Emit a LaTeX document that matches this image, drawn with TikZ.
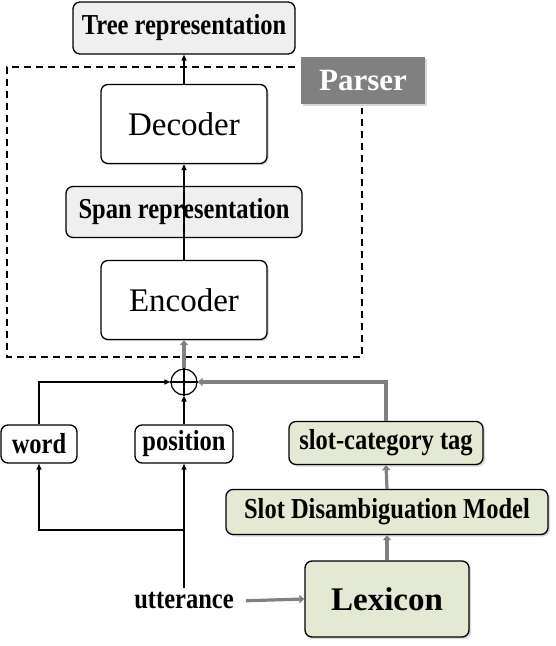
\documentclass[tikz,border=0pt]{standalone}
\usepackage{fontspec}
\setmainfont{Liberation Serif}
\usetikzlibrary{arrows.meta,shadows}

\definecolor{repfill}{HTML}{EFEFEF}
\definecolor{slotfill}{HTML}{E3E9D2}
\definecolor{parserfill}{HTML}{808080}

% labels in the figure are a bit taller than wide
\newcommand{\tallbf}[1]{\scalebox{1}[1.18]{#1}}

\begin{document}
\begin{tikzpicture}[x=1pt,y=-1pt,
    box/.style={draw,line width=1.3pt,rounded corners=7pt,inner sep=0pt,
        font=\fontsize{24.5}{28}\selectfont\bfseries},
    repbox/.style={box,fill=repfill},
    netbox/.style={box,fill=white,font=\fontsize{33}{36}\selectfont,
        drop shadow={opacity=0.35,shadow xshift=1.5pt,shadow yshift=-1.5pt}},
    slotbox/.style={box,fill=slotfill,
        drop shadow={opacity=0.3,shadow xshift=2pt,shadow yshift=-2pt}},
    blk/.style={line width=1.2pt,-{Triangle[length=6pt,width=5pt]}},
    gry/.style={draw=parserfill,line width=3.2pt,-{Triangle[length=5pt,width=8pt]}}]
    \useasboundingbox (0,0) rectangle (556,646);

    % parser part
    \draw[line width=1.4pt,dash pattern=on 7pt off 5pt]
        (295,67) -- (7,67) -- (7,357) -- (362,357) -- (362,108);
    \node[fill=parserfill,text=white,minimum width=124,minimum height=47,
        font=\fontsize{31}{34}\selectfont\bfseries,
        drop shadow={opacity=0.3,shadow xshift=2pt,shadow yshift=-2pt}]
        (parser) at (363,80) {Parser};
    \node[repbox,minimum width=222,minimum height=52] (tree) at (184,28) {\tallbf{Tree representation}};
    \node[netbox,minimum width=166,minimum height=79] (dec) at (184,124) {Decoder};
    \node[repbox,minimum width=236,minimum height=51] (span) at (184,212) {\tallbf{Span representation}};
    \node[netbox,minimum width=166,minimum height=79] (enc) at (184,300) {Encoder};

    % inputs
    \node[circle,draw,line width=1.2pt,minimum size=26,inner sep=0pt] (sum) at (184,382) {};
    \draw[line width=1.2pt] (sum.north) -- (sum.south) (sum.west) -- (sum.east);
    \node[box,minimum width=76,minimum height=38] (word) at (39,444) {\tallbf{word}};
    \node[box,minimum width=98,minimum height=38] (pos) at (184,444) {\tallbf{position}};
    \node[font=\fontsize{24.5}{28}\selectfont\bfseries,inner sep=4pt] (utt) at (184,601) {\tallbf{utterance}};
    \coordinate (fork) at (184,530);

    % lexicon part
    \node[slotbox,minimum width=194,minimum height=43] (slot) at (386,443) {\tallbf{slot-category tag}};
    \node[slotbox,minimum width=322,minimum height=45] (sdm) at (387,512) {\tallbf{Slot Disambiguation Model}};
    \node[slotbox,minimum width=164,minimum height=76,font=\fontsize{33}{36}\selectfont\bfseries]
        (lex) at (387,599) {Lexicon};

    \draw[blk] (dec.north) -- (tree.south);
    \draw[blk] (enc.north) -- (dec.south);
    \draw[gry] (sum.north) -- (enc.south);
    \draw[blk] (word.north) |- (sum.west);
    \draw[blk] (pos.north) -- (sum.south);
    \draw[gry] (slot.north) |- (sum.east);
    \draw[blk] (utt.north) -- (pos.south);
    \draw[blk] (fork) -| (word.south);
    \draw[gry] (lex.north) -- (sdm.south);
    \draw[gry] (sdm.north) -- (slot.south);
    \draw[gry,shorten <=8pt] (utt.east) -- (lex.west);
\end{tikzpicture}
\end{document}
